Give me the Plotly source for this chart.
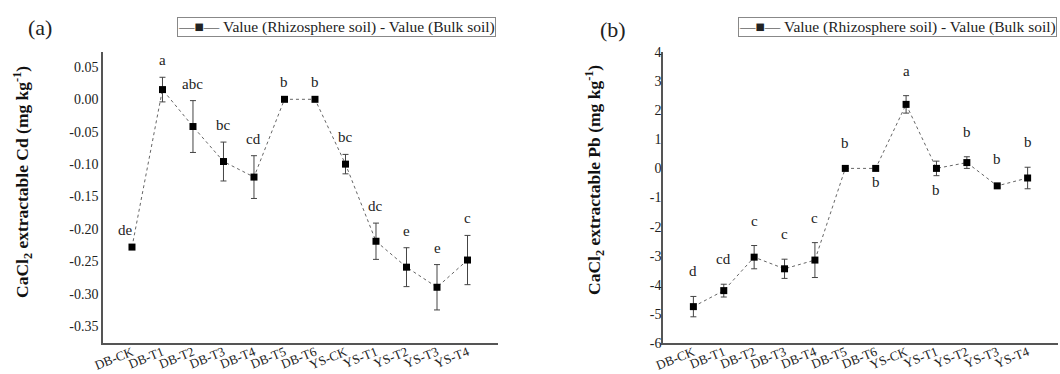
import plotly.graph_objects as go

# ---------------- data ----------------
categories = ["DB-CK", "DB-T1", "DB-T2", "DB-T3", "DB-T4", "DB-T5", "DB-T6",
              "YS-CK", "YS-T1", "YS-T2", "YS-T3", "YS-T4"]

cd_values = [-0.228, 0.015, -0.042, -0.096, -0.120, 0.0, 0.0,
             -0.100, -0.219, -0.259, -0.290, -0.248]
cd_errors = [0.0, 0.019, 0.040, 0.030, 0.033, 0.0, 0.0,
             0.015, 0.028, 0.030, 0.035, 0.038]
cd_letters = ["de", "a", "abc", "bc", "cd", "b", "b", "bc", "dc", "e", "e", "c"]

pb_values = [-4.75, -4.20, -3.05, -3.45, -3.15, 0.0, 0.0,
             2.20, 0.0, 0.20, -0.60, -0.33]
pb_errors = [0.35, 0.22, 0.40, 0.33, 0.60, 0.0, 0.0,
             0.30, 0.25, 0.20, 0.05, 0.37]
pb_letters = ["d", "cd", "c", "c", "c", "b", "b", "a", "b", "b", "b", "b"]
pb_letter_side = ["above", "above", "above", "above", "above", "above", "below",
                  "above", "below", "above", "above", "above"]

cd_tickvals = [0.05, 0.0, -0.05, -0.10, -0.15, -0.20, -0.25, -0.30, -0.35]
cd_ticktext = ["0.05", "0.00", "-0.05", "-0.10", "-0.15", "-0.20", "-0.25", "-0.30", "-0.35"]
pb_tickvals = [4, 3, 2, 1, 0, -1, -2, -3, -4, -5, -6]
pb_ticktext = ["4", "3", "2", "1", "0", "-1", "-2", "-3", "-4", "-5", "-6"]

legend_text = "Value (Rhizosphere soil) - Value (Bulk soil)"
title_a = "<b>CaCl<sub>2</sub> extractable Cd (mg kg<sup>-1</sup>)</b>"
title_b = "<b>CaCl<sub>2</sub> extractable Pb (mg kg<sup>-1</sup>)</b>"

# ---------------- layout helpers ----------------
W, H = 1060, 374
FONT = "Liberation Serif, Times New Roman, DejaVu Serif, serif"


def px_x(p):
    return p / W


def px_y(p):
    return 1 - p / H


fig = go.Figure()

line_style = dict(color="#666666", width=1, dash="dot")
marker_style = dict(symbol="square", size=7, color="black")

fig.add_trace(go.Scatter(
    x=categories, y=cd_values, mode="lines+markers",
    line=line_style, marker=marker_style,
    error_y=dict(type="data", array=cd_errors, color="#444444", thickness=1, width=3),
    showlegend=False, xaxis="x", yaxis="y"))

fig.add_trace(go.Scatter(
    x=categories, y=pb_values, mode="lines+markers",
    line=line_style, marker=marker_style,
    error_y=dict(type="data", array=pb_errors, color="#444444", thickness=1, width=3),
    showlegend=False, xaxis="x2", yaxis="y2"))

tick_font_x = dict(family=FONT, size=13, color="#222222")
tick_font_y = dict(family=FONT, size=14, color="#222222")
axis_common = dict(showline=True, linecolor="#555555", linewidth=1.5,
                   showgrid=False, zeroline=False, ticks="", automargin=False)

fig.update_layout(
    width=W, height=H,
    margin=dict(l=0, r=0, t=0, b=0, autoexpand=False),
    paper_bgcolor="white", plot_bgcolor="white",
    font=dict(family=FONT, color="#222222"),
    xaxis=dict(domain=[px_x(103), px_x(498)], anchor="y", range=[-0.95, 12],
               tickangle=-22, type="category", tickfont=tick_font_x,
               ticklabelstandoff=-5, **axis_common),
    yaxis=dict(domain=[px_y(343), px_y(52)], anchor="x", range=[-0.376, 0.073],
               tickvals=cd_tickvals, ticktext=cd_ticktext, tickfont=tick_font_y,
               **axis_common),
    xaxis2=dict(domain=[px_x(663), px_x(1058)], anchor="y2", range=[-1, 12],
                tickangle=-22, type="category", tickfont=tick_font_x,
                ticklabelstandoff=-5, **axis_common),
    yaxis2=dict(domain=[px_y(343), px_y(52)], anchor="x2", range=[-6, 4],
                tickvals=pb_tickvals, ticktext=pb_ticktext, tickfont=tick_font_y,
                ticklabelstandoff=-3, **axis_common),
)

annotations = []
letter_font = dict(family=FONT, size=15, color="#222222")

for c, v, e, t in zip(categories, cd_values, cd_errors, cd_letters):
    xs = -6 if t == "de" else 0
    annotations.append(dict(x=c, y=v + e, xref="x", yref="y", text=t,
                            showarrow=False, yanchor="middle", yshift=17,
                            xshift=xs, font=letter_font))

for c, v, e, t, s in zip(categories, pb_values, pb_errors, pb_letters, pb_letter_side):
    if s == "above":
        annotations.append(dict(x=c, y=v + e, xref="x2", yref="y2", text=t,
                                showarrow=False, yanchor="middle", yshift=25,
                                font=letter_font))
    else:
        annotations.append(dict(x=c, y=v - e, xref="x2", yref="y2", text=t,
                                showarrow=False, yanchor="middle", yshift=-14,
                                font=letter_font))

# panel labels
annotations.append(dict(x=px_x(40), y=px_y(28), xref="paper", yref="paper", text="(a)",
                        showarrow=False, xanchor="center", yanchor="middle",
                        font=dict(family=FONT, size=22, color="#222222")))
annotations.append(dict(x=px_x(613), y=px_y(30), xref="paper", yref="paper", text="(b)",
                        showarrow=False, xanchor="center", yanchor="middle",
                        font=dict(family=FONT, size=22, color="#222222")))

# y-axis titles
annotations.append(dict(x=px_x(23), y=px_y(182), xref="paper", yref="paper", text=title_a,
                        showarrow=False, textangle=-90, xanchor="center", yanchor="middle",
                        font=dict(family=FONT, size=17.5, color="#111111")))
annotations.append(dict(x=px_x(595), y=px_y(180), xref="paper", yref="paper", text=title_b,
                        showarrow=False, textangle=-90, xanchor="center", yanchor="middle",
                        font=dict(family=FONT, size=17.5, color="#111111")))

# legend boxes
for lx in (177, 738):
    annotations.append(dict(x=px_x(lx), y=px_y(17), xref="paper", yref="paper",
                            text="—■— " + legend_text, showarrow=False,
                            xanchor="left", yanchor="top",
                            bordercolor="#888888", borderwidth=1, borderpad=0,
                            font=dict(family=FONT, size=15.5, color="#222222")))

fig.update_layout(annotations=annotations)

fig.write_html("out.html")
